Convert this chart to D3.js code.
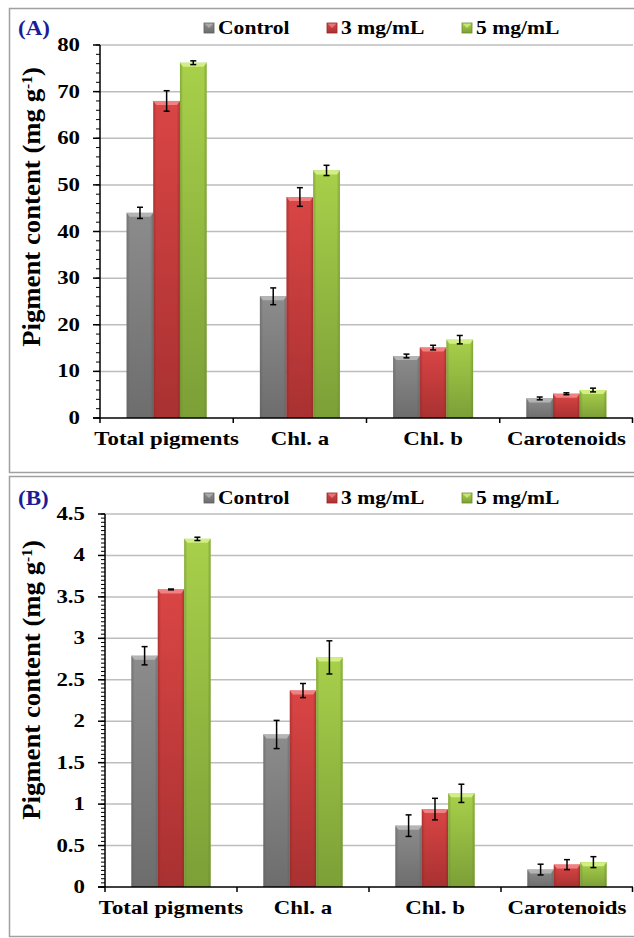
<!DOCTYPE html>
<html>
<head>
<meta charset="utf-8">
<script src="https://cdn.jsdelivr.net/npm/d3@7"></script>
<style>
  html, body { margin: 0; padding: 0; background: #fff; }
  svg { display: block; }
  text { font-family: "Liberation Serif", "Times New Roman", serif; font-weight: bold; }
</style>
</head>
<body>
<div id="chart"></div>
<script>
// Pigment content by treatment, two panels
const categories = ["Total pigments", "Chl. a", "Chl. b", "Carotenoids"];
const seriesNames = ["Control", "3 mg/mL", "5 mg/mL"];

// Panel A
const controlA = [44.0, 26.1, 13.3, 4.2];
const controlAErr = [1.2, 1.8, 0.4, 0.3];
const mg3A = [68.0, 47.4, 15.1, 5.2];
const mg3AErr = [2.2, 2.0, 0.5, 0.2];
const mg5A = [76.2, 53.1, 16.8, 6.0];
const mg5AErr = [0.4, 1.1, 0.9, 0.4];
const ticksA = [0, 10, 20, 30, 40, 50, 60, 70, 80];

// Panel B
const controlB = [2.79, 1.84, 0.74, 0.21];
const controlBErr = [0.11, 0.17, 0.13, 0.065];
const mg3B = [3.59, 2.37, 0.94, 0.27];
const mg3BErr = [0.005, 0.085, 0.13, 0.06];
const mg5B = [4.20, 2.77, 1.13, 0.30];
const mg5BErr = [0.02, 0.20, 0.11, 0.066];
const ticksB = [0, 0.5, 1, 1.5, 2, 2.5, 3, 3.5, 4, 4.5];

const W = 634, H = 938;
const SX = 1.27;           // horizontal widening of the serif lettering
const FRAME = "#a0a0a0";

const palette = [
  { top: "#8c8c8c", bottom: "#6d6d6d", bevel: "#b4b4b4", edge: "#5e5e5e" },
  { top: "#da4545", bottom: "#a93131", bevel: "#f28080", edge: "#8e2626" },
  { top: "#a8d04a", bottom: "#7c9f37", bevel: "#d2ef86", edge: "#6a8a2c" }
];

const svg = d3.select("#chart").append("svg")
  .attr("width", W).attr("height", H);

const defs = svg.append("defs");
palette.forEach((p, i) => {
  const g = defs.append("linearGradient").attr("id", "bar" + i)
    .attr("x1", 0).attr("y1", 0).attr("x2", 0).attr("y2", 1);
  g.append("stop").attr("offset", "0%").attr("stop-color", p.top);
  g.append("stop").attr("offset", "100%").attr("stop-color", p.bottom);
  const s = defs.append("linearGradient").attr("id", "side" + i)
    .attr("x1", 0).attr("y1", 0).attr("x2", 1).attr("y2", 0);
  s.append("stop").attr("offset", "0%").attr("stop-color", p.edge).attr("stop-opacity", 0.55);
  s.append("stop").attr("offset", "12%").attr("stop-color", p.edge).attr("stop-opacity", 0);
  s.append("stop").attr("offset", "88%").attr("stop-color", p.edge).attr("stop-opacity", 0);
  s.append("stop").attr("offset", "100%").attr("stop-color", p.edge).attr("stop-opacity", 0.6);
});

// text drawn with the widened serif look
function label(parent, x, y, str, size, anchor, fill, sx) {
  return parent.append("text")
    .attr("transform", `translate(${x},${y}) scale(${sx || SX},1)`)
    .attr("text-anchor", anchor || "start")
    .attr("font-size", size)
    .attr("fill", fill || "#000")
    .text(str);
}

function panel(cfg) {
  const g = svg.append("g");

  // outer frame
  g.append("rect")
    .attr("x", 9.5).attr("y", cfg.frameTop + 0.5)
    .attr("width", W + 10).attr("height", cfg.frameBottom - cfg.frameTop)
    .attr("fill", "none").attr("stroke", FRAME).attr("stroke-width", 1.5);

  const x0 = d3.scaleBand().domain(categories).range([cfg.left, cfg.right]).padding(0);
  const x1 = d3.scaleBand().domain(seriesNames).range([0, x0.bandwidth()])
    .paddingInner(0).paddingOuter(1);
  const y = d3.scaleLinear().domain([0, cfg.max]).range([cfg.bottom, cfg.top]);

  // gridlines
  g.append("g").selectAll("line").data(cfg.ticks.filter(t => t > 0)).join("line")
    .attr("x1", cfg.left).attr("x2", cfg.right)
    .attr("y1", d => y(d)).attr("y2", d => y(d))
    .attr("stroke", "#bdbdbd").attr("stroke-width", 1.5);

  // bars
  const rows = categories.map((c, i) => ({
    cat: c,
    vals: cfg.series.map((s, k) => ({ k, name: seriesNames[k], v: s.v[i], e: s.e[i] }))
  }));
  const groups = g.append("g").selectAll("g").data(rows).join("g")
    .attr("transform", d => `translate(${x0(d.cat)},0)`);
  const bw = x1.bandwidth();
  const bars = groups.selectAll("g.bar").data(d => d.vals).join("g").attr("class", "bar");
  bars.append("rect")
    .attr("x", d => x1(d.name)).attr("width", bw)
    .attr("y", d => y(d.v)).attr("height", d => y(0) - y(d.v))
    .attr("fill", d => `url(#bar${d.k})`);
  bars.append("rect")
    .attr("x", d => x1(d.name)).attr("width", bw)
    .attr("y", d => y(d.v)).attr("height", d => y(0) - y(d.v))
    .attr("fill", d => `url(#side${d.k})`);
  // top bevel
  bars.append("path")
    .attr("d", d => {
      const xa = x1(d.name), xb = xa + bw, yt = y(d.v);
      const h = Math.min(4, y(0) - yt);
      return `M${xa},${yt}L${xb},${yt}L${xb - 3},${yt + h}L${xa + 3},${yt + h}Z`;
    })
    .attr("fill", d => palette[d.k].bevel);

  // error bars
  const eb = bars.append("g").attr("stroke", "#000").attr("stroke-width", 1.5);
  eb.append("line")
    .attr("x1", d => x1(d.name) + bw / 2).attr("x2", d => x1(d.name) + bw / 2)
    .attr("y1", d => y(d.v + d.e)).attr("y2", d => y(d.v - d.e));
  eb.append("line")
    .attr("x1", d => x1(d.name) + bw / 2 - 3).attr("x2", d => x1(d.name) + bw / 2 + 3)
    .attr("y1", d => y(d.v + d.e)).attr("y2", d => y(d.v + d.e));
  eb.append("line")
    .attr("x1", d => x1(d.name) + bw / 2 - 3).attr("x2", d => x1(d.name) + bw / 2 + 3)
    .attr("y1", d => y(d.v - d.e)).attr("y2", d => y(d.v - d.e));

  // y axis: minor ticks, major ticks, line
  const minor = d3.range(0, cfg.max + cfg.minorStep / 2, cfg.minorStep);
  g.append("g").selectAll("line").data(minor).join("line")
    .attr("x1", cfg.left - 4).attr("x2", cfg.left)
    .attr("y1", d => y(d)).attr("y2", d => y(d))
    .attr("stroke", "#000").attr("stroke-width", 1);
  g.append("g").selectAll("line").data(cfg.ticks).join("line")
    .attr("x1", cfg.left - 7).attr("x2", cfg.left)
    .attr("y1", d => y(d)).attr("y2", d => y(d))
    .attr("stroke", "#000").attr("stroke-width", 1.5);
  g.append("line")
    .attr("x1", cfg.left).attr("x2", cfg.left)
    .attr("y1", cfg.top).attr("y2", cfg.bottom)
    .attr("stroke", "#000").attr("stroke-width", 1.5);

  // x axis line and category boundary ticks
  g.append("line")
    .attr("x1", cfg.left - 7).attr("x2", cfg.right)
    .attr("y1", cfg.bottom).attr("y2", cfg.bottom)
    .attr("stroke", "#000").attr("stroke-width", 1.5);
  const bounds = categories.map(c => x0(c)).concat([cfg.right - 0.5]);
  g.append("g").selectAll("line").data(bounds).join("line")
    .attr("x1", d => d).attr("x2", d => d)
    .attr("y1", cfg.bottom).attr("y2", cfg.bottom + 5)
    .attr("stroke", "#000").attr("stroke-width", 1.5);

  // tick labels
  cfg.ticks.forEach(t => {
    label(g, cfg.left - 20, y(t) + 6, String(t), 18, "end");
  });
  categories.forEach(c => {
    label(g, x0(c) + x0.bandwidth() / 2, cfg.bottom + 27, c, 18, "middle");
  });

  // axis title
  const title = g.append("text")
    .attr("transform", `translate(${cfg.titleX},${cfg.titleY}) rotate(-90) scale(1.03,1)`)
    .attr("text-anchor", "middle")
    .attr("font-size", 26);
  title.append("tspan").text("Pigment content (mg g");
  title.append("tspan").attr("baseline-shift", "super").attr("font-size", 15).text("-1");
  title.append("tspan").text(")");

  // panel letter
  label(g, 18, cfg.legendY + 7, cfg.letter, 20, "start", "#1c1c96", 1.15);

  // legend
  const legendX = [204, 327, 462];
  seriesNames.forEach((name, k) => {
    const lx = legendX[k], ly = cfg.legendY - 5;
    g.append("rect").attr("x", lx).attr("y", ly).attr("width", 10).attr("height", 10)
      .attr("fill", `url(#bar${k})`);
    g.append("path")
      .attr("d", `M${lx},${ly}L${lx + 10},${ly}L${lx + 5},${ly + 5}Z`)
      .attr("fill", palette[k].bevel).attr("opacity", 0.8);
    g.append("rect").attr("x", lx).attr("y", ly).attr("width", 10).attr("height", 10)
      .attr("fill", "none").attr("stroke", palette[k].edge).attr("stroke-width", 0.8);
    label(g, lx + 14, cfg.legendY + 6, name, 18, "start", "#000", 1.2);
  });
}

panel({
  letter: "(A)", frameTop: 8, frameBottom: 472,
  left: 100, right: 633, top: 45, bottom: 418, max: 80,
  ticks: ticksA, minorStep: 2, legendY: 28, titleX: 40, titleY: 207,
  series: [
    { v: controlA, e: controlAErr },
    { v: mg3A, e: mg3AErr },
    { v: mg5A, e: mg5AErr }
  ]
});

panel({
  letter: "(B)", frameTop: 476, frameBottom: 936,
  left: 105, right: 633, top: 514, bottom: 887, max: 4.5,
  ticks: ticksB, minorStep: 0.05, legendY: 498, titleX: 40, titleY: 680,
  series: [
    { v: controlB, e: controlBErr },
    { v: mg3B, e: mg3BErr },
    { v: mg5B, e: mg5BErr }
  ]
});
</script>
</body>
</html>
